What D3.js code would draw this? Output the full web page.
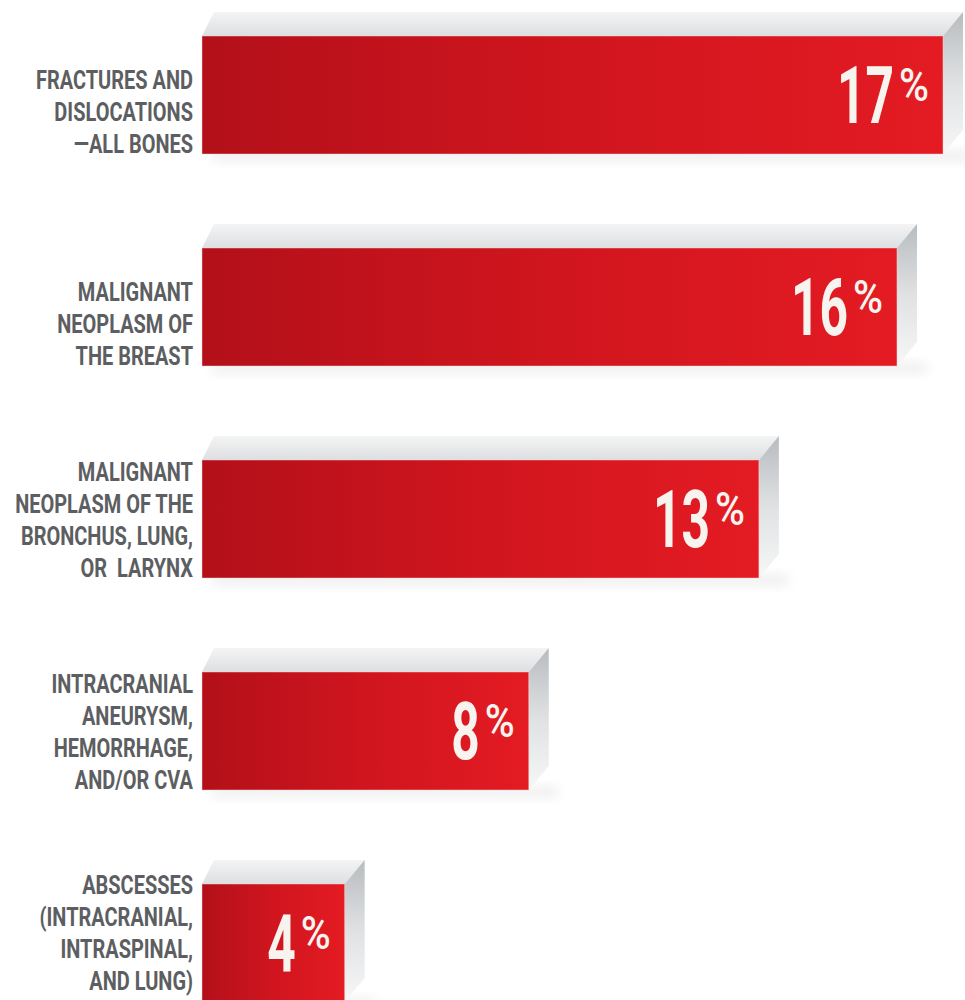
<!DOCTYPE html>
<html>
<head>
<meta charset="utf-8">
<script src="https://cdn.jsdelivr.net/npm/d3@7"></script>
<style>
body { margin: 0; background: #fff; }
svg { display: block; }
</style>
</head>
<body>
<svg id="chart" width="965" height="1000"></svg>
<script>
// data
var labels = [
  ["FRACTURES AND", "DISLOCATIONS", "\u2014ALL BONES"],
  ["MALIGNANT", "NEOPLASM OF", "THE BREAST"],
  ["MALIGNANT", "NEOPLASM OF THE", "BRONCHUS, LUNG,", "OR  LARYNX"],
  ["INTRACRANIAL", "ANEURYSM,", "HEMORRHAGE,", "AND/OR CVA"],
  ["ABSCESSES", "(INTRACRANIAL,", "INTRASPINAL,", "AND LUNG)"]
];
var values = [17, 16, 13, 8, 4];

var svg = d3.select("#chart");
var depthX = 20, depthY = 24;
var labelRight = 193, linePitch = 32;

var xScale = d3.scaleLinear().domain([0.9, 17]).range([202, 943]);
var yScale = d3.scaleBand()
  .domain(d3.range(values.length))
  .range([36, 1002])
  .paddingInner(0.4434);
var h = yScale.bandwidth();

var defs = svg.append("defs");

var red = defs.append("linearGradient").attr("id", "redGrad")
  .attr("x1", "0%").attr("y1", "0%").attr("x2", "100%").attr("y2", "0%");
red.append("stop").attr("offset", "0%").attr("stop-color", "#b3101a");
red.append("stop").attr("offset", "50%").attr("stop-color", "#d0151e");
red.append("stop").attr("offset", "100%").attr("stop-color", "#e41b23");

var top_ = defs.append("linearGradient").attr("id", "topGrad")
  .attr("x1", "0%").attr("y1", "0%").attr("x2", "0%").attr("y2", "100%");
top_.append("stop").attr("offset", "0%").attr("stop-color", "#f4f4f4");
top_.append("stop").attr("offset", "100%").attr("stop-color", "#dcdfe2");

var side = defs.append("linearGradient").attr("id", "sideGrad")
  .attr("x1", "0%").attr("y1", "0%").attr("x2", "0%").attr("y2", "100%");
side.append("stop").attr("offset", "0%").attr("stop-color", "#b9bcbf");
side.append("stop").attr("offset", "50%").attr("stop-color", "#dfe1e3");
side.append("stop").attr("offset", "100%").attr("stop-color", "#f7f7f7");

defs.append("filter").attr("id", "blur")
  .attr("x", "-20%").attr("y", "-50%").attr("width", "140%").attr("height", "200%")
  .append("feGaussianBlur").attr("stdDeviation", 6);

// measure helper for the condensed look
function measure(str, size, weight) {
  var t = svg.append("text").attr("font-family", "Roboto")
    .attr("font-size", size).attr("font-weight", weight).text(str);
  var w = t.node().getComputedTextLength();
  t.remove();
  return w;
}
var labelSize = 25;
var labelSx = 178 / measure("NEOPLASM OF THE", labelSize, 700);
var numSize = 79;
var numSx = 57 / measure("16", numSize, 700);
var pctSize = 47;
var pctSx = 30 / measure("%", pctSize, 500);

var bars = svg.selectAll("g.bar")
  .data(values)
  .enter().append("g")
  .attr("class", "bar");

// soft shadow
bars.append("rect")
  .attr("x", function(d) { return xScale(0.9) + 10; })
  .attr("y", function(d, i) { return yScale(i) + h - 4; })
  .attr("width", function(d) { return xScale(d) - xScale(0.9) + depthX; })
  .attr("height", 12)
  .attr("fill", "#000")
  .attr("opacity", 0.06)
  .attr("filter", "url(#blur)");

// top face
bars.append("path")
  .attr("fill", "url(#topGrad)")
  .attr("d", function(d, i) {
    var x0 = xScale(0.9), x1 = xScale(d), y0 = yScale(i);
    return "M" + x0 + "," + y0 + "L" + (x0 + depthX * 0.6) + "," + (y0 - depthY) +
      "L" + (x1 + depthX) + "," + (y0 - depthY) + "L" + x1 + "," + y0 + "Z";
  });

// right face
bars.append("path")
  .attr("fill", "url(#sideGrad)")
  .attr("d", function(d, i) {
    var x1 = xScale(d), y0 = yScale(i);
    return "M" + x1 + "," + y0 + "L" + (x1 + depthX) + "," + (y0 - depthY) +
      "L" + (x1 + depthX) + "," + (y0 + h - depthY) + "L" + x1 + "," + (y0 + h) + "Z";
  });

// front face
bars.append("rect")
  .attr("x", xScale(0.9))
  .attr("y", function(d, i) { return yScale(i); })
  .attr("width", function(d) { return xScale(d) - xScale(0.9); })
  .attr("height", h)
  .attr("fill", "url(#redGrad)")
  .attr("stroke", "rgba(255,215,210,0.45)")
  .attr("stroke-width", 1);

// category labels, bottom aligned with the bar (kept inside the page)
bars.each(function(d, i) {
  var lines = labels[i];
  var bottom = Math.min(yScale(i) + h - 1, 990);
  var t = d3.select(this).append("text")
    .attr("transform", "translate(" + labelRight + ",0) scale(" + labelSx + ",1)")
    .attr("text-anchor", "end")
    .attr("font-family", "Roboto")
    .attr("font-weight", 700)
    .attr("font-size", labelSize)
    .attr("fill", "#5c5e61")
    .style("white-space", "pre");
  lines.forEach(function(s, j) {
    t.append("tspan")
      .attr("x", 0)
      .attr("y", bottom - (lines.length - 1 - j) * linePitch)
      .text(s);
  });
});

// value labels
bars.append("text")
  .attr("transform", function(d, i) {
    var cy = yScale(i) + h / 2;
    return "translate(" + (xScale(d) - 49) + "," + (cy + 28) + ") scale(" + numSx + ",1)";
  })
  .attr("text-anchor", "end")
  .attr("font-family", "Roboto")
  .attr("font-weight", 700)
  .attr("font-size", numSize)
  .attr("fill", "#f7f4ef")
  .text(function(d) { return d; });

bars.append("text")
  .attr("transform", function(d, i) {
    var cy = yScale(i) + h / 2;
    return "translate(" + (xScale(d) - 14) + "," + (cy + 6) + ") scale(" + pctSx + ",1)";
  })
  .attr("text-anchor", "end")
  .attr("font-family", "Roboto")
  .attr("font-weight", 500)
  .attr("font-size", pctSize)
  .attr("fill", "#f7f4ef")
  .text("%");
</script>
</body>
</html>
